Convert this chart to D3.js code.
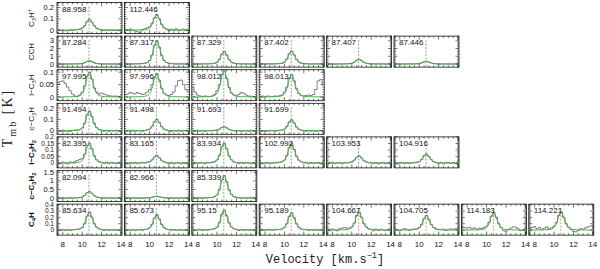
<!DOCTYPE html>
<html>
<head>
<meta charset="utf-8">
<script src="https://cdn.jsdelivr.net/npm/d3@7"></script>
<style>
body { margin: 0; background: #fff; }
text { font-family: "Liberation Sans", Arial, sans-serif; }
</style>
</head>
<body>
<div id="chart"></div>
<script>
// channel velocities (km/s) of the spectra, and of the fitted profiles
var specV = [7.5, 7.75, 8, 8.25, 8.5, 8.75, 9, 9.25, 9.5, 9.75, 10, 10.25, 10.5, 10.75, 11,
             11.25, 11.5, 11.75, 12, 12.25, 12.5, 12.75, 13, 13.25, 13.5, 13.75, 14];
var fitV = [7.5, 9, 9.5, 9.75, 10, 10.25, 10.5, 10.75, 11, 11.25, 11.5, 11.75, 12, 12.5, 14];
var vlsr = 10.7;
var velTicks = [8, 10, 12, 14];

// C3H+
var freqC3Hp = ["88.958", "112.446"];
var specC3Hp = [
  [.004,-.003,.002,-.005,-.006,.003,-.002,.004,.006,.01,.02,.04,.075,.097,.07,.04,.018,.008,.002,-.004,.003,-.002,.004,-.003,.002,-.004,.001],
  [.006,-.004,.01,.002,-.008,-.015,-.02,.004,.012,.02,.03,.06,.11,.138,.1,.05,.02,.01,-.006,.008,-.004,.012,-.006,.004,.01,-.005,.006]
];
var fitC3Hp = [
  [0,.001,.003,.006,.013,.036,.076,.095,.068,.034,.014,.006,.003,.001,0],
  [0,.001,.004,.008,.019,.051,.108,.135,.097,.049,.02,.008,.004,.001,0]
];

// CCH
var freqCCH = ["87.284", "87.317", "87.329", "87.402", "87.407", "87.446"];
var specCCH = [
  [.02,-.02,.01,-.01,.02,-.02,.01,.02,.02,.03,.06,.16,.33,.41,.29,.15,.06,.02,.01,-.02,.01,-.01,.02,-.01,.01,-.02,.01],
  [.02,-.03,.02,-.02,.03,.01,.03,.05,.1,.19,.44,1.15,2.4,3.02,2.15,1.1,.46,.19,.09,.04,.02,-.02,.01,-.01,.02,-.02,.01],
  [.01,-.02,.02,-.01,.01,.02,.02,.03,.05,.1,.23,.6,1.28,1.62,1.15,.58,.25,.1,.05,.02,-.01,.02,-.02,.01,-.01,.02,.01],
  [-.01,.02,-.02,.01,.02,-.01,.02,.03,.06,.1,.24,.63,1.33,1.66,1.19,.6,.25,.1,.05,.02,.01,-.02,.01,.02,-.01,.01,-.02],
  [.01,-.01,.02,-.02,.01,.01,-.01,.01,.02,.04,.09,.23,.48,.6,.44,.22,.09,.04,.02,.01,-.01,.02,-.01,.01,-.02,.01,.01],
  [-.01,.02,-.01,.01,-.02,.01,.02,-.01,.01,.02,.05,.13,.28,.35,.25,.13,.05,.02,.01,-.01,.02,-.01,.01,-.02,.01,.01,-.01]
];
var fitCCH = [
  [0,.004,.012,.024,.056,.152,.32,.4,.288,.144,.06,.024,.012,.004,0],
  [0,.03,.09,.18,.42,1.14,2.4,3.0,2.16,1.08,.45,.18,.09,.03,0],
  [0,.016,.048,.096,.224,.608,1.28,1.6,1.152,.576,.24,.096,.048,.016,0],
  [0,.017,.05,.099,.231,.627,1.32,1.65,1.188,.594,.248,.099,.05,.017,0],
  [0,.006,.018,.036,.084,.228,.48,.6,.432,.216,.09,.036,.018,.006,0],
  [0,.004,.011,.021,.049,.133,.28,.35,.252,.126,.053,.021,.011,.004,0]
];

// l-C3H
var freqLC3H = ["97.995", "97.996", "98.012", "98.013"];
var specLC3H = [
  [.05,.062,.065,.055,.04,.025,.012,.004,.002,.008,.02,.045,.085,.1,.072,.036,.02,.012,.016,.012,.008,.005,.004,.003,.004,.002,.004],
  [.008,.012,.018,.015,.012,.018,.014,.01,.012,.02,.03,.05,.08,.095,.068,.035,.015,.008,.006,.01,.02,.045,.066,.068,.05,.03,.02],
  [.04,.02,.008,.004,.002,.004,.003,.002,.004,.01,.025,.05,.09,.108,.075,.038,.016,.008,.006,.01,.018,.015,.008,.004,.003,.002,.003],
  [.003,.004,.002,.004,.003,.002,.004,.003,.005,.008,.02,.04,.075,.09,.065,.033,.014,.006,.004,.006,.008,.006,.01,.03,.065,.07,.05]
];
var fitLC3H = [
  [0,.001,.003,.006,.014,.038,.08,.1,.072,.036,.015,.006,.003,.001,0],
  [0,.001,.003,.006,.013,.036,.076,.095,.068,.034,.014,.006,.003,.001,0],
  [0,.001,.003,.006,.015,.04,.084,.105,.076,.038,.016,.006,.003,.001,0],
  [0,.001,.003,.005,.013,.034,.072,.09,.065,.032,.014,.005,.003,.001,0]
];

// c-C3H
var freqCC3H = ["91.494", "91.498", "91.693", "91.699"];
var specCC3H = [
  [.004,-.005,.006,-.003,.002,-.006,.004,.006,.008,.012,.025,.065,.14,.172,.125,.065,.028,.012,.004,-.004,.005,-.006,.003,-.002,.006,-.004,.002],
  [-.004,.005,-.002,.006,-.005,.003,.002,-.004,.004,.008,.016,.04,.08,.1,.072,.036,.015,.006,.002,-.005,.004,-.003,.006,-.004,.003,.005,-.002],
  [.003,-.004,.005,-.002,.004,-.005,.003,.004,.002,.006,.008,.016,.03,.035,.026,.013,.006,.002,-.003,.004,-.005,.003,.002,-.004,.005,-.002,.003],
  [.004,-.003,.002,-.005,.004,.003,-.004,.002,.005,.007,.015,.038,.077,.096,.068,.034,.014,.005,.003,-.004,.005,-.003,.004,-.005,.002,.004,-.003]
];
var fitCC3H = [
  [0,.002,.005,.01,.024,.065,.136,.17,.122,.061,.026,.01,.005,.002,0],
  [0,.001,.003,.006,.014,.038,.08,.1,.072,.036,.015,.006,.003,.001,0],
  [0,0,.001,.002,.005,.013,.028,.035,.025,.013,.005,.002,.001,0,0],
  [0,.001,.003,.006,.013,.036,.076,.095,.068,.034,.014,.006,.003,.001,0]
];

// l-C3H2
var freqLC3H2 = ["82.395", "83.165", "83.934", "102.992", "103.953", "104.916"];
var specLC3H2 = [
  [.006,-.004,.008,.003,-.006,.01,.004,.012,.02,.028,.035,.07,.135,.152,.11,.055,.025,.012,.006,-.004,.008,-.005,.006,.002,-.004,.007,.003],
  [.004,-.006,.005,-.002,.007,-.004,.003,.006,.004,.008,.012,.025,.047,.06,.042,.022,.01,.005,-.003,.006,-.005,.004,.002,-.006,.005,-.002,.004],
  [-.004,.006,-.003,.005,.002,-.005,.006,.004,.008,.012,.025,.06,.125,.152,.11,.055,.025,.01,.004,-.004,.006,-.003,.005,.004,-.005,.006,-.002],
  [.005,-.004,.003,.006,-.005,.004,.003,.006,.008,.012,.024,.058,.12,.148,.105,.052,.022,.01,.003,.006,-.004,.005,-.003,.004,.006,-.005,.003],
  [-.005,.004,.007,-.004,.003,.006,-.005,.004,.003,.006,.01,.024,.045,.056,.04,.02,.01,.004,.006,-.004,.005,-.006,.003,.007,-.004,.004,.005],
  [.005,-.006,.004,.006,-.003,.005,-.004,.006,.005,.008,.012,.028,.057,.07,.05,.026,.012,.005,-.004,.006,-.005,.004,.005,-.003,.006,-.004,.004]
];
var fitLC3H2 = [
  [0,.002,.005,.009,.021,.057,.12,.15,.108,.054,.023,.009,.005,.002,0],
  [0,.001,.002,.003,.008,.022,.046,.058,.042,.021,.009,.003,.002,.001,0],
  [0,.002,.005,.009,.021,.057,.12,.15,.108,.054,.023,.009,.005,.002,0],
  [0,.001,.004,.009,.02,.055,.116,.145,.104,.052,.022,.009,.004,.001,0],
  [0,.001,.002,.003,.008,.021,.044,.055,.04,.02,.008,.003,.002,.001,0],
  [0,.001,.002,.004,.01,.027,.056,.07,.05,.025,.011,.004,.002,.001,0]
];

// c-C3H2
var freqCC3H2 = ["82.094", "82.966", "85.339"];
var specCC3H2 = [
  [.02,-.01,.015,-.02,.01,.02,-.015,.01,.02,.03,.06,.15,.3,.38,.28,.14,.06,.025,.01,-.015,.02,-.01,.015,-.02,.01,.015,-.01],
  [-.01,.02,-.015,.01,.02,-.01,.015,-.02,.01,.015,.02,.04,.08,.1,.072,.036,.02,.01,-.015,.02,-.01,.015,-.02,.01,.02,-.015,.01],
  [.02,-.01,.02,.01,-.02,.02,.01,.03,.04,.08,.18,.5,1.04,1.3,.94,.47,.2,.08,.04,.02,-.01,.02,-.02,.01,.02,-.01,.01]
];
var fitCC3H2 = [
  [0,.004,.011,.023,.053,.144,.304,.38,.274,.137,.057,.023,.011,.004,0],
  [0,.001,.003,.006,.014,.038,.08,.1,.072,.036,.015,.006,.003,.001,0],
  [0,.013,.039,.078,.182,.494,1.04,1.3,.936,.468,.195,.078,.039,.013,0]
];

// C4H
var freqC4H = ["85.634", "85.673", "95.15", "95.189", "104.667", "104.705", "114.183", "114.221"];
var specC4H = [
  [.008,-.006,.01,-.004,.006,-.008,.005,.01,.012,.02,.04,.1,.22,.285,.2,.1,.045,.02,.008,-.006,.007,-.005,.009,-.004,.006,-.007,.005],
  [-.006,.008,-.004,.007,-.006,.005,.008,-.004,.01,.016,.035,.09,.19,.245,.175,.087,.038,.015,.006,-.005,.008,-.006,.004,.007,-.005,.006,-.004],
  [.01,-.008,.006,.012,-.006,.009,-.004,.01,.014,.022,.045,.12,.25,.315,.225,.112,.048,.02,.008,-.007,.01,-.006,.008,-.005,.009,-.004,.006],
  [-.008,.01,-.005,.007,.009,-.006,.008,.006,.01,.018,.04,.1,.215,.272,.195,.098,.042,.018,.006,.009,-.006,.008,-.005,.01,-.004,.007,.005],
  [.012,-.01,.015,.005,-.012,.02,.03,.04,.03,.03,.05,.11,.23,.285,.2,.1,.05,.02,.01,-.012,.015,-.008,.012,.006,-.01,.014,.005],
  [.015,.005,-.01,.012,.02,.01,-.008,.012,.015,.02,.04,.09,.18,.232,.165,.085,.04,.02,.01,.006,.015,-.008,.01,.018,.01,.02,.012],
  [.05,.04,.03,.045,.02,.035,.01,.03,.025,.04,.06,.12,.22,.275,.2,.1,.04,-.01,-.02,.01,.03,.05,.045,.02,-.01,0,.02],
  [.02,.04,.055,.02,.04,.01,.03,.05,.02,.035,.06,.12,.23,.285,.2,.1,.045,.01,-.02,-.03,-.01,.02,.015,.035,.05,.06,.07]
];
var fitC4H = [
  [0,.003,.008,.017,.039,.106,.224,.28,.202,.101,.042,.017,.008,.003,0],
  [0,.002,.007,.014,.034,.091,.192,.24,.173,.086,.036,.014,.007,.002,0],
  [0,.003,.009,.019,.043,.118,.248,.31,.223,.112,.047,.019,.009,.003,0],
  [0,.003,.008,.016,.038,.103,.216,.27,.194,.097,.041,.016,.008,.003,0],
  [0,.003,.008,.017,.039,.106,.224,.28,.202,.101,.042,.017,.008,.003,0],
  [0,.002,.007,.014,.032,.087,.184,.23,.166,.083,.035,.014,.007,.002,0],
  [0,.003,.008,.016,.038,.103,.216,.27,.194,.097,.041,.016,.008,.003,0],
  [0,.003,.008,.017,.039,.106,.224,.28,.202,.101,.042,.017,.008,.003,0]
];

// y-axis ticks of each row
var rowTicks = [[0, 0.1, 0.2], [0, 1, 2, 3], [0, 0.05, 0.1], [0, 0.1, 0.2],
                [0, 0.05, 0.1, 0.15, 0.2], [0, 0.5, 1, 1.5], [0, 0.1, 0.2, 0.3, 0.4]];

// row labels: [text, "n" | "sub" | "sup"]
var rowLabels = [
  [["C", "n"], ["3", "sub"], ["H", "n"], ["+", "sup"]],
  [["CCH", "n"]],
  [["l\u2212C", "n"], ["3", "sub"], ["H", "n"]],
  [["c\u2212C", "n"], ["3", "sub"], ["H", "n"]],
  [["l\u2212C", "n"], ["3", "sub"], ["H", "n"], ["2", "sub"]],
  [["c\u2212C", "n"], ["3", "sub"], ["H", "n"], ["2", "sub"]],
  [["C", "n"], ["4", "sub"], ["H", "n"]]
];

var rows = [
  {freqs: freqC3Hp, spec: specC3Hp, fit: fitC3Hp},
  {freqs: freqCCH, spec: specCCH, fit: fitCCH},
  {freqs: freqLC3H, spec: specLC3H, fit: fitLC3H},
  {freqs: freqCC3H, spec: specCC3H, fit: fitCC3H},
  {freqs: freqLC3H2, spec: specLC3H2, fit: fitLC3H2},
  {freqs: freqCC3H2, spec: specCC3H2, fit: fitCC3H2},
  {freqs: freqC4H, spec: specC4H, fit: fitC4H}
];

// layout
var panelLeft = 57, colStep = 67.4, pw = 65,
    panelTop = 2.5, rowStep = 33.6, ph = 31;
var yDomains = [[-0.03, 0.245], [-0.4, 3.6], [-0.015, 0.11], [-0.03, 0.24],
                [-0.036, 0.2], [-0.2, 1.6], [-0.08, 0.41]];
var yMinor = [0.02, 0.2, 0.01, 0.02, 0.01, 0.1, 0.02];
var boldRows = [false, false, false, false, true, true, true];

var green = "#44b044";

var svg = d3.select("#chart").append("svg")
    .attr("width", 600)
    .attr("height", 269);

svg.append("defs").append("clipPath").attr("id", "clip")
    .append("rect").attr("width", pw).attr("height", ph);

var x = d3.scaleLinear().domain([7.4, 14.1]).range([0, pw]);
var xMinor = d3.range(7.5, 14.01, 0.5).filter(function (v) { return velTicks.indexOf(v) < 0; });

function addLabel(sel, parts, size) {
    parts.forEach(function (p, i) {
        var t = sel.append("tspan").text(p[0]);
        var prev = i > 0 ? parts[i - 1][1] : "n";
        var shift = 0;
        if (p[1] == "sub") { shift = size * 0.3; t.attr("font-size", size * 0.72); }
        if (p[1] == "sup") { shift = -size * 0.4; t.attr("font-size", size * 0.72); }
        var prevShift = prev == "sub" ? size * 0.3 : (prev == "sup" ? -size * 0.4 : 0);
        if (shift - prevShift != 0) t.attr("dy", shift - prevShift);
    });
}

rows.forEach(function (row, r) {
    var y = d3.scaleLinear().domain(yDomains[r]).range([ph, 0]);
    var majors = rowTicks[r];
    var minors = d3.range(0, yDomains[r][1] + 1e-9, yMinor[r])
        .concat(d3.range(-yMinor[r], yDomains[r][0] - 1e-9, -yMinor[r]))
        .filter(function (v) {
            return !majors.some(function (m) { return Math.abs(m - v) < 1e-9; });
        });

    var specLine = d3.line()
        .x(function (d, i) { return x(specV[i]); })
        .y(function (d) { return y(d); })
        .curve(d3.curveStep);
    var fitLine = d3.line()
        .x(function (d, i) { return x(fitV[i]); })
        .y(function (d) { return y(d); })
        .curve(d3.curveMonotoneX);

    var rowY = panelTop + r * rowStep;

    row.freqs.forEach(function (f, c) {
        var g = svg.append("g")
            .attr("transform", "translate(" + (panelLeft + c * colStep) + "," + rowY + ")");

        var inner = g.append("g").attr("clip-path", "url(#clip)");

        // systemic velocity marker
        inner.append("line")
            .attr("x1", x(vlsr)).attr("x2", x(vlsr))
            .attr("y1", 4).attr("y2", ph)
            .attr("stroke", (r == 6 && c >= 2) ? "#c0504d" : "#555")
            .attr("stroke-width", 0.6)
            .attr("stroke-dasharray", "2,1.5");

        inner.append("path")
            .attr("d", specLine(row.spec[c]))
            .attr("fill", "none")
            .attr("stroke", "#333")
            .attr("stroke-width", 0.6);

        inner.append("path")
            .attr("d", fitLine(row.fit[c]))
            .attr("fill", "none")
            .attr("stroke", green)
            .attr("stroke-width", 1);

        // frame
        g.append("rect")
            .attr("width", pw).attr("height", ph)
            .attr("fill", "none")
            .attr("stroke", "#111")
            .attr("stroke-width", 0.8);

        // ticks on all four sides
        var tk = g.append("g").attr("stroke", "#111").attr("stroke-width", 0.6);
        velTicks.concat(xMinor).forEach(function (v) {
            var len = velTicks.indexOf(v) >= 0 ? 3.5 : 1.8;
            tk.append("line").attr("x1", x(v)).attr("x2", x(v)).attr("y1", ph).attr("y2", ph - len);
            tk.append("line").attr("x1", x(v)).attr("x2", x(v)).attr("y1", 0).attr("y2", len);
        });
        majors.concat(minors).forEach(function (v) {
            var yy = y(v);
            if (yy < 0 || yy > ph) return;
            var len = majors.indexOf(v) >= 0 ? 3.5 : 1.8;
            tk.append("line").attr("x1", 0).attr("x2", len).attr("y1", yy).attr("y2", yy);
            tk.append("line").attr("x1", pw).attr("x2", pw - len).attr("y1", yy).attr("y2", yy);
        });

        // transition frequency
        g.append("text")
            .attr("x", 5).attr("y", 9)
            .attr("font-size", 8)
            .attr("fill", "#111")
            .text(f);

        // velocity labels along the bottom row
        if (r == rows.length - 1) {
            velTicks.forEach(function (v) {
                g.append("text")
                    .attr("x", x(v)).attr("y", ph + 12)
                    .attr("text-anchor", "middle")
                    .attr("font-size", 8)
                    .attr("fill", "#111")
                    .text(v);
            });
        }
    });

    // y tick labels, first column only
    var tickSize = majors.length > 4 ? 6.5 : 7.5;
    majors.forEach(function (v) {
        svg.append("text")
            .attr("x", panelLeft - 3)
            .attr("y", rowY + y(v) + tickSize * 0.35)
            .attr("text-anchor", "end")
            .attr("font-size", tickSize)
            .attr("fill", "#111")
            .text(String(v));
    });

    // molecule label
    var lab = svg.append("text")
        .attr("transform", "translate(34," + (rowY + ph / 2) + ") rotate(-90)")
        .attr("text-anchor", "middle")
        .attr("font-size", 8)
        .attr("font-weight", boldRows[r] ? "bold" : "normal")
        .attr("fill", "#111");
    addLabel(lab, rowLabels[r], 8);
});

// axis titles
var yt = svg.append("text")
    .attr("transform", "translate(12,118) rotate(-90)")
    .attr("text-anchor", "middle")
    .attr("font-size", 14)
    .style("font-family", "'Liberation Serif', serif")
    .attr("letter-spacing", 2)
    .attr("fill", "#222");
addLabel(yt, [["T", "n"], ["mb", "sub"], [" [K]", "n"]], 14);

var xt = svg.append("text")
    .attr("x", 325).attr("y", 263)
    .attr("text-anchor", "middle")
    .attr("font-size", 12)
    .style("font-family", "'Liberation Mono', monospace")
    .attr("fill", "#222");
addLabel(xt, [["Velocity [km.s", "n"], ["\u22121", "sup"], ["]", "n"]], 12);
</script>
</body>
</html>
